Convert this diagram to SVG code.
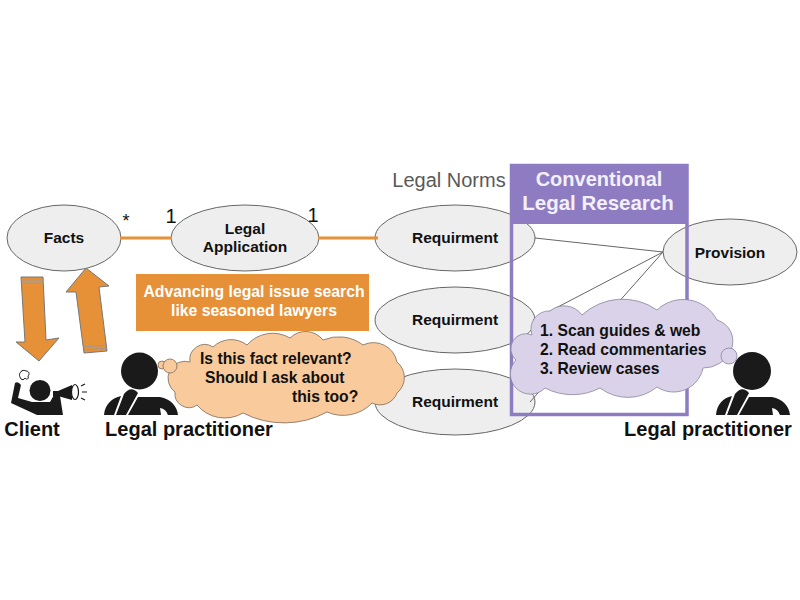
<svg xmlns="http://www.w3.org/2000/svg" width="800" height="600" viewBox="0 0 800 600">
<style>
text{font-family:"Liberation Sans",Arial,sans-serif;fill:#111;text-anchor:middle}
.n{fill:#eeeeee;stroke:#666;stroke-width:1}
.b{font-weight:bold;font-size:15.500px}
.t{font-weight:bold;font-size:15.700px;text-anchor:start}
.p{font-weight:bold;font-size:20px}
.ink{fill:#1a1a1a}
.w{fill:#fff;font-weight:bold}
.arrow{fill:#e69138;stroke:#777;stroke-width:1}
.band{stroke:#999;stroke-width:1.200;fill:none}
</style>
<rect width="800" height="600" fill="#fff"/>
<g id="nodes-back">
<g id="facts"><ellipse class="n" cx="64" cy="238" rx="57" ry="33"/><text class="b" x="64" y="243">Facts</text></g>
<g id="legal-application"><ellipse class="n" cx="245" cy="238" rx="74" ry="33"/><text class="b" x="245" y="234">Legal</text><text class="b" x="245" y="252">Application</text></g>
<g id="requirement-1"><ellipse class="n" cx="455" cy="238" rx="80" ry="33"/><text class="b" x="455" y="243">Requirment</text></g>
<g id="requirement-2"><ellipse class="n" cx="455" cy="320" rx="80" ry="33"/><text class="b" x="455" y="325">Requirment</text></g>
<g id="requirement-3"><ellipse class="n" cx="455" cy="402" rx="80" ry="33"/><text class="b" x="455" y="407">Requirment</text></g>
<g id="provision"><ellipse class="n" cx="730" cy="252" rx="67" ry="33"/><text class="b" x="730" y="258">Provision</text></g>
</g>
<g id="connectors">
<path d="M120 238H172M318 238H378" stroke="#e69138" stroke-width="3" fill="none"/>
<path d="M535 238L663 252M533 320L663 252M530 402L663 252" stroke="#666" stroke-width="1" fill="none"/>
<path class="arrow" d="M21 277L43 277L46 340L59 338L39 361L16 342L25 342Z"/>
<path class="band" d="M21.500 280L43.200 280M21.700 283L43.300 283"/>
<path class="arrow" d="M86 268L109 286L99 287L107 351L84 353L76 292L66 292Z"/>
<path class="band" d="M83.700 350L106.700 348M83.300 347L106.300 345"/>
<text x="126" y="227" font-size="18">*</text>
<text x="171" y="223" font-size="20">1</text>
<text x="313" y="222" font-size="20">1</text>
</g>
<g id="legal-norms"><text x="449" y="187" font-size="20" style="fill:#595959">Legal Norms</text></g>
<g id="conventional-research">
<rect x="511.500" y="165.500" width="175.500" height="249" fill="none" stroke="#8e7cc3" stroke-width="3.500"/>
<rect x="510" y="164" width="178" height="60" fill="#8e7cc3"/>
<text class="w" x="599" y="186" font-size="20" style="fill:#f3f0fa">Conventional</text>
<text class="w" x="598" y="210" font-size="20.500" style="fill:#f3f0fa">Legal Research</text>
</g>
<g id="advancing-box">
<rect x="136" y="274" width="233" height="57" fill="#e69138"/>
<text class="w" x="254" y="297" font-size="15.800" style="fill:#fff">Advancing legal issue search</text>
<text class="w" x="254" y="316" font-size="15.800" style="fill:#fff">like seasoned lawyers</text>
</g>
<g id="client">
<path class="ink" d="M15 383Q18 381 21 385L18 398L32 402L50 402L54 395L60 396L63 415L37 415L11 403Z"/>
<circle class="ink" cx="40" cy="390.500" r="10.500"/>
<path class="ink" d="M53 391H58L72 385V400L58 396H53Z"/>
<ellipse cx="75" cy="392" rx="3.500" ry="7.500" fill="#fff" stroke="#1a1a1a" stroke-width="1.200"/>
<path d="M81 386L85 384M82 392H87M81 398L85 400" stroke="#1a1a1a" stroke-width="1.200" fill="none"/>
<path d="M21 379C19 376 19 373 21 372C21 370 25 370 26 371C29 371 30 374 28 376C29 379 27 380 25 378C24 380 22 380 21 379Z" fill="#fff" stroke="#1a1a1a" stroke-width="1"/>
<text class="p" x="32" y="436">Client</text>
</g>
<g id="practitioner-left">
<circle class="ink" cx="139.500" cy="371" r="18.500"/>
<path class="ink" d="M104 415C105 404 112 398 121 396L114 415ZM116 415L124 394Q131 385 138 393L126 415ZM128 415L138 397H160C171 399 177 406 178 415H168Q166 409 160 408L161 415Z"/>
<text class="p" x="189" y="436">Legal practitioner</text>
</g>
<g id="thought-left">
<path d="M190 362A15 15 0 0 1 213 347A26 26 0 0 1 247 345A34 34 0 0 1 290 338A22 22 0 0 1 323 340A40 40 0 0 1 363 345A24 24 0 0 1 397 362A20 20 0 0 1 397 393A18 18 0 0 1 372 403A40 40 0 0 1 327 412A90 90 0 0 1 243 413A36 36 0 0 1 197 405A14 14 0 0 1 175 392A17 17 0 0 1 190 362Z" fill="#f9cb9c" stroke="#7a6a5a" stroke-width="0.800"/>
<circle cx="162" cy="365" r="4" fill="#f9cb9c" stroke="#7a6a5a" stroke-width="0.800"/>
<circle cx="170" cy="366" r="7" fill="#f9cb9c" stroke="#7a6a5a" stroke-width="0.800"/>
<text class="t" x="200" y="364">Is this fact relevant?</text>
<text class="t" x="205" y="383">Should I ask about</text>
<text class="t" x="292" y="402">this too?</text>
</g>
<g id="practitioner-right">
<circle class="ink" cx="752" cy="371" r="19"/>
<path class="ink" d="M716 415C717 404 723 398 732 396L725 415ZM727 415L735 394Q742 385 749 393L737 415ZM739 415L749 397H772C783 399 789 406 790 415H780Q778 409 772 408L773 415Z"/>
<text class="p" x="708" y="436">Legal practitioner</text>
</g>
<g id="thought-right">
<path d="M532 335A18 18 0 0 1 550 311A22 22 0 0 1 582 315A60 60 0 0 1 657 310A38 38 0 0 1 717 320A22 22 0 0 1 731 350A30 30 0 0 1 703 368A30 30 0 0 1 657 387A46 46 0 0 1 600 388A60 60 0 0 1 545 388A20 20 0 0 1 516 360A15 15 0 0 1 532 335Z" fill="#d9d2e9" stroke="#8a84a0" stroke-width="0.800"/>
<circle cx="729" cy="356" r="8" fill="#d9d2e9" stroke="#8a84a0" stroke-width="0.800"/>
<text class="t" x="540" y="336">1. Scan guides &amp; web</text>
<text class="t" x="540" y="355">2. Read commentaries</text>
<text class="t" x="540" y="374">3. Review cases</text>
</g>
</svg>
